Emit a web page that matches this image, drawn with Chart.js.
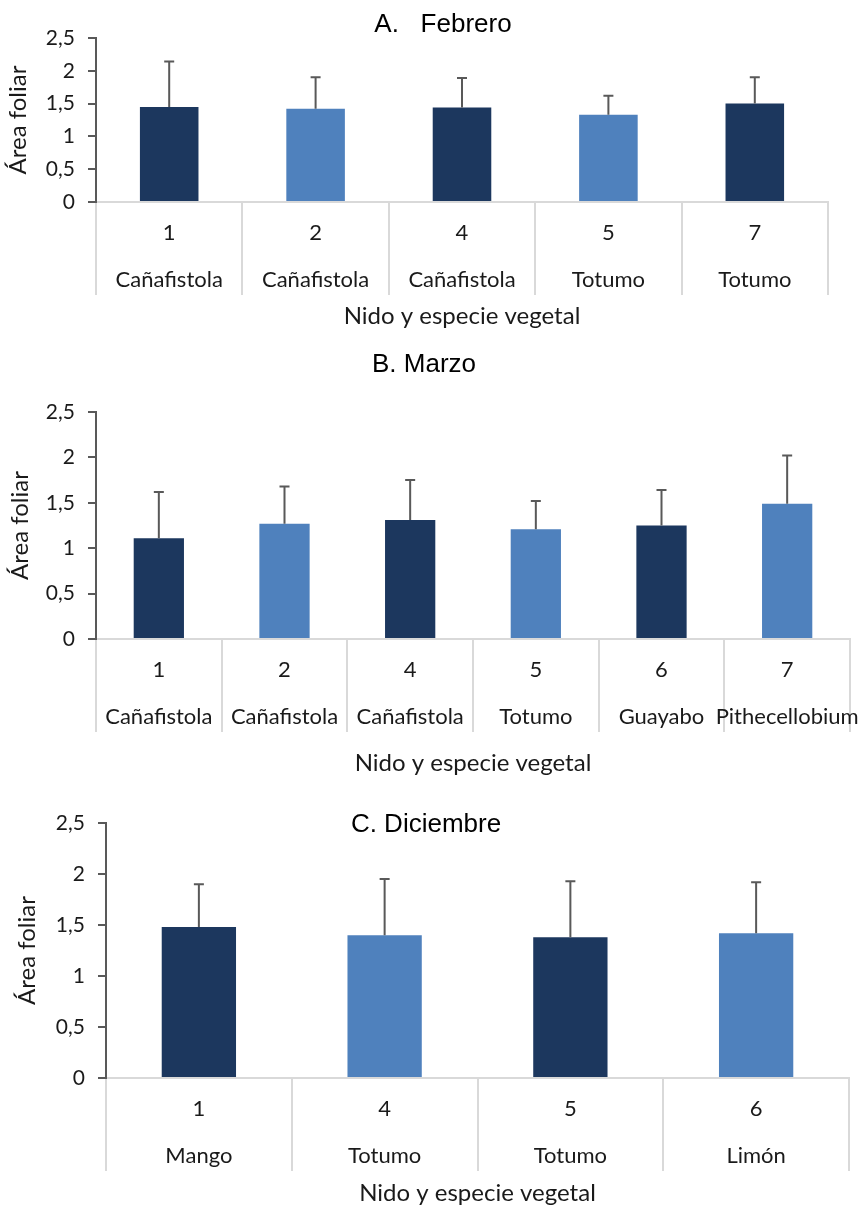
<!DOCTYPE html>
<html>
<head>
<meta charset="utf-8">
<script src="https://cdn.jsdelivr.net/npm/chart.js@4.4.1/dist/chart.umd.min.js"></script>
<style>
  body { margin: 0; background: #fff; width: 862px; height: 1205px; position: relative; overflow: hidden; }
  canvas { position: absolute; left: 0; }
</style>
</head>
<body>
<canvas id="febrero" width="862" height="330" style="top:0px"></canvas>
<canvas id="marzo" width="862" height="450" style="top:330px"></canvas>
<canvas id="diciembre" width="862" height="425" style="top:780px"></canvas>
<script>
// A. Febrero
const febreroNidos = ['1', '2', '4', '5', '7'];
const febreroEspecies = ['Cañafistola', 'Cañafistola', 'Cañafistola', 'Totumo', 'Totumo'];
const febreroMedias = [1.45, 1.42, 1.44, 1.33, 1.50];
const febreroDE = [0.69, 0.48, 0.45, 0.29, 0.40];

// B. Marzo
const marzoNidos = ['1', '2', '4', '5', '6', '7'];
const marzoEspecies = ['Cañafistola', 'Cañafistola', 'Cañafistola', 'Totumo', 'Guayabo', 'Pithecellobium'];
const marzoMedias = [1.11, 1.27, 1.31, 1.21, 1.25, 1.49];
const marzoDE = [0.51, 0.41, 0.44, 0.31, 0.39, 0.53];

// C. Diciembre
const diciembreNidos = ['1', '4', '5', '6'];
const diciembreEspecies = ['Mango', 'Totumo', 'Totumo', 'Limón'];
const diciembreMedias = [1.48, 1.40, 1.38, 1.42];
const diciembreDE = [0.42, 0.55, 0.55, 0.50];

const yTicks = [0, 0.5, 1, 1.5, 2, 2.5];

const OSCURO = '#1C375E';
const CLARO = '#4F81BD';
const TEXTO = '#1a1a1a';

Chart.defaults.font.family = 'Lato';

// barras de error (solo hacia arriba)
const errorBars = {
  id: 'errorBars',
  afterDatasetsDraw(chart) {
    const ds = chart.data.datasets[0];
    const meta = chart.getDatasetMeta(0);
    const y = chart.scales.y;
    const ctx = chart.ctx;
    ctx.save();
    ctx.strokeStyle = '#595959';
    ctx.lineWidth = 2;
    meta.data.forEach((bar, i) => {
      const top = y.getPixelForValue(ds.data[i] + ds.errores[i]);
      ctx.beginPath();
      ctx.moveTo(bar.x, bar.y);
      ctx.lineTo(bar.x, top);
      ctx.moveTo(bar.x - 5, top);
      ctx.lineTo(bar.x + 5, top);
      ctx.stroke();
    });
    ctx.restore();
  }
};

// titulo del panel
const panelTitle = {
  id: 'panelTitle',
  afterDraw(chart, args, opts) {
    const ctx = chart.ctx;
    ctx.save();
    ctx.font = '26px "Liberation Sans", Arial, sans-serif';
    ctx.fillStyle = '#000';
    ctx.textAlign = 'center';
    ctx.textBaseline = 'middle';
    ctx.fillText(opts.text, opts.x, opts.y);
    ctx.restore();
  }
};

function makeChart(id, nidos, especies, medias, de, o) {
  return new Chart(document.getElementById(id), {
    type: 'bar',
    data: {
      labels: nidos.map((n, i) => [n, especies[i]]),
      datasets: [{
        data: medias,
        errores: de,
        backgroundColor: medias.map((_, i) => i % 2 ? CLARO : OSCURO),
        borderWidth: 0,
        barPercentage: 0.4,
        categoryPercentage: 1
      }]
    },
    options: {
      responsive: false,
      animation: false,
      layout: { padding: { top: o.top, right: o.right, left: 0, bottom: 0 } },
      plugins: {
        legend: { display: false },
        tooltip: { enabled: false },
        panelTitle: { text: o.title, x: o.titleX, y: o.titleY }
      },
      scales: {
        x: {
          offset: true,
          ticks: {
            autoSkip: false, maxRotation: 0, minRotation: 0,
            padding: -85.5,
            color: TEXTO,
            font: { family: 'Lato', size: 22, lineHeight: '47px' }
          },
          grid: { offset: true, drawOnChartArea: false, tickLength: 93, color: '#D9D9D9', lineWidth: 2 },
          border: { color: '#D9D9D9', width: 2 },
          title: {
            display: true, text: 'Nido y especie vegetal', color: TEXTO,
            font: { family: 'Lato', size: 24, lineHeight: 1 },
            padding: { top: 0, bottom: o.xTitlePad }
          },
          afterFit: s => { s.height = o.xHeight; s.paddingLeft = 0; s.paddingRight = 0; }
        },
        y: {
          min: 0, max: 2.5,
          afterBuildTicks: s => { s.ticks = yTicks.map(v => ({ value: v })); },
          ticks: {
            padding: 13, color: TEXTO,
            font: { family: 'Lato', size: 21 },
            callback: v => String(v).replace('.', ',')
          },
          grid: { drawOnChartArea: false, tickLength: 8, color: '#595959', lineWidth: 2 },
          border: { color: '#595959', width: 2 },
          title: {
            display: true, text: 'Área foliar', color: TEXTO,
            font: { family: 'Lato', size: 24, lineHeight: 1 },
            padding: { top: o.yTitlePad, bottom: 0 }
          },
          afterFit: s => { s.width = o.yWidth; s.paddingTop = 0; s.paddingBottom = 0; }
        }
      }
    },
    plugins: [errorBars, panelTitle]
  });
}

makeChart('febrero', febreroNidos, febreroEspecies, febreroMedias, febreroDE, {
  title: 'A.   Febrero', titleX: 443, titleY: 25,
  top: 38, right: 34, yWidth: 96, xHeight: 128, xTitlePad: 2, yTitlePad: 6
});
makeChart('marzo', marzoNidos, marzoEspecies, marzoMedias, marzoDE, {
  title: 'B. Marzo', titleX: 424, titleY: 35,
  top: 82, right: 12, yWidth: 96, xHeight: 141, xTitlePad: 5, yTitlePad: 8
});
makeChart('diciembre', diciembreNidos, diciembreEspecies, diciembreMedias, diciembreDE, {
  title: 'C. Diciembre', titleX: 426, titleY: 45,
  top: 43, right: 13, yWidth: 106, xHeight: 127, xTitlePad: 0, yTitlePad: 15
});
</script>
</body>
</html>
